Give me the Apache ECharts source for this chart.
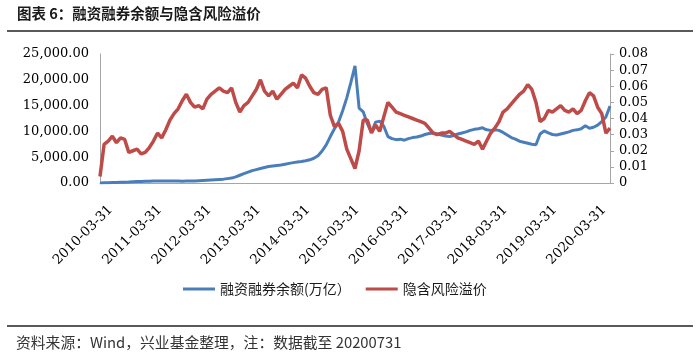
<!DOCTYPE html>
<html><head><meta charset="utf-8">
<script src="https://cdn.jsdelivr.net/npm/echarts@6/dist/echarts.min.js"></script>
<style>html,body{margin:0;padding:0;background:#fff}#c{width:700px;height:357px}</style>
</head><body><div id="c"></div><script>
const titleText = '图表 6：融资融券余额与隐含风险溢价';
const sourceText = '资料来源：Wind，兴业基金整理，注：数据截至 20200731';
const seriesNames = ['融资融券余额(万亿）', '隐含风险溢价'];
const startYear = 2010, startMonth = 3, monthCount = 125;

// 融资融券余额 (monthly, 2010-03-31 .. 2020-07-31)
const marginBalance = [
  0, 30, 60, 90, 120, 140, 160, 190, 230, 270, 300, 330,
  350, 380, 400, 410, 400, 390, 380, 370, 360, 370, 380, 400,
  450, 500, 550, 600, 650, 700, 750, 850, 950, 1200, 1500, 1800,
  2100, 2400, 2600, 2800, 3000, 3200, 3300, 3400, 3500, 3650, 3800, 3950,
  4050, 4150, 4300, 4500, 4800, 5300, 6200, 7400, 9000, 10500, 11800, 14000,
  16500, 19500, 22700, 14500, 13800, 11500, 9800, 11800, 12000, 11000, 9000, 8600,
  8400, 8500, 8300, 8600, 8800, 8900, 9100, 9400, 9600, 9700, 9500, 9300,
  9100, 9000, 9200, 9500, 9700, 9900, 10200, 10400, 10500, 10700, 10300, 10200,
  10300, 10200, 9800, 9300, 8800, 8500, 8100, 7900, 7700, 7500, 7400, 9500,
  10100, 9700, 9400, 9300, 9500, 9700, 9900, 10200, 10300, 10500, 11100, 10600,
  10800, 11200, 11900, 12800, 14900
];

// 隐含风险溢价 (monthly)
const riskPremium = [
  0.004, 0.024, 0.026, 0.029, 0.025, 0.028, 0.027, 0.019, 0.020, 0.021, 0.018, 0.019,
  0.022, 0.026, 0.031, 0.028, 0.033, 0.039, 0.043, 0.046, 0.051, 0.055, 0.050, 0.047,
  0.048, 0.046, 0.052, 0.055, 0.057, 0.059, 0.057, 0.056, 0.059, 0.050, 0.044, 0.048,
  0.050, 0.054, 0.058, 0.064, 0.057, 0.054, 0.057, 0.052, 0.055, 0.058, 0.060, 0.062,
  0.059, 0.067, 0.065, 0.060, 0.056, 0.055, 0.058, 0.059, 0.042, 0.035, 0.037, 0.032,
  0.021, 0.015, 0.009, 0.020, 0.039, 0.039, 0.031, 0.036, 0.032, 0.041, 0.050, 0.047,
  0.044, 0.043, 0.042, 0.041, 0.040, 0.039, 0.038, 0.037, 0.034, 0.031, 0.030, 0.031,
  0.031, 0.032, 0.030, 0.028, 0.027, 0.026, 0.025, 0.024, 0.026, 0.021, 0.026, 0.031,
  0.034, 0.038, 0.044, 0.046, 0.049, 0.052, 0.055, 0.057, 0.061, 0.058, 0.050, 0.038,
  0.040, 0.045, 0.044, 0.046, 0.048, 0.045, 0.044, 0.046, 0.043, 0.045, 0.051, 0.056,
  0.054, 0.047, 0.043, 0.031, 0.034
];

const leftAxis = { min: 0, max: 25000, interval: 5000 };
const rightAxis = { min: 0, max: 0.08, interval: 0.01 };

// month-end date categories
const categories = [];
for (let i = 0; i < monthCount; i++) {
  const m0 = startMonth - 1 + i;
  const y = startYear + Math.floor(m0 / 12);
  const m = (m0 % 12) + 1;
  const d = new Date(y, m, 0).getDate();
  categories.push(y + '-' + String(m).padStart(2, '0') + '-' + String(d).padStart(2, '0'));
}

const chart = echarts.init(document.getElementById('c'), null, { renderer: 'canvas' });
const serif = '"DejaVu Serif", serif';
const cjk = '"Noto Sans CJK SC", sans-serif';

chart.setOption({
  animation: false,
  backgroundColor: '#fff',
  grid: { left: 100, right: 90, top: 54, bottom: 174 },
  legend: {
    data: seriesNames,
    left: 178, top: 277,
    icon: 'rect', itemWidth: 32, itemHeight: 3, itemGap: 15,
    textStyle: { fontFamily: cjk, fontSize: 14, color: '#1a1a1a' }
  },
  xAxis: {
    type: 'category', data: categories, boundaryGap: false,
    axisLine: { lineStyle: { color: '#a6a6a6', width: 1 } },
    axisTick: { show: false },
    splitLine: { show: false },
    axisLabel: {
      interval: 11, rotate: 45, margin: 14, verticalAlign: 'top', padding: [8, 0, 0, 0],
      fontFamily: serif, fontSize: 13.5, color: '#000'
    }
  },
  yAxis: [
    {
      type: 'value', min: leftAxis.min, max: leftAxis.max, interval: leftAxis.interval,
      axisLine: { show: true, lineStyle: { color: '#a6a6a6' } },
      axisTick: { show: false },
      splitLine: { show: false },
      axisLabel: {
        margin: 11, fontFamily: serif, fontSize: 13, color: '#000',
        formatter: v => v.toLocaleString('en-US', { minimumFractionDigits: 2, maximumFractionDigits: 2 })
      }
    },
    {
      type: 'value', position: 'right', min: rightAxis.min, max: rightAxis.max, interval: rightAxis.interval,
      axisLine: { show: true, lineStyle: { color: '#a6a6a6' } },
      axisTick: { show: true, length: 4, lineStyle: { color: '#a6a6a6' } },
      splitLine: { show: false },
      axisLabel: { margin: 9, fontFamily: serif, fontSize: 13, color: '#000' }
    }
  ],
  series: [
    {
      name: seriesNames[0], type: 'line', data: marginBalance, yAxisIndex: 0,
      showSymbol: false, lineStyle: { color: '#4a7ebb', width: 3 }, itemStyle: { color: '#4a7ebb' }
    },
    {
      name: seriesNames[1], type: 'line', data: riskPremium, yAxisIndex: 1,
      showSymbol: false, lineStyle: { color: '#be4b48', width: 3.5 }, itemStyle: { color: '#be4b48' }
    }
  ],
  graphic: [
    { type: 'text', left: 17, top: 6, style: { text: titleText, font: 'bold 14.5px "Noto Sans CJK SC"', fill: '#1a1a1a' } },
    { type: 'line', shape: { x1: 7, y1: 31, x2: 693, y2: 31 }, style: { stroke: '#222', lineWidth: 1.5 } },
    { type: 'line', shape: { x1: 7, y1: 326, x2: 693, y2: 326 }, style: { stroke: '#222', lineWidth: 1.5 } },
    { type: 'text', left: 16, top: 335, style: { text: sourceText, font: '14.8px "Noto Sans CJK SC"', fill: '#333' } }
  ]
});
</script></body></html>
